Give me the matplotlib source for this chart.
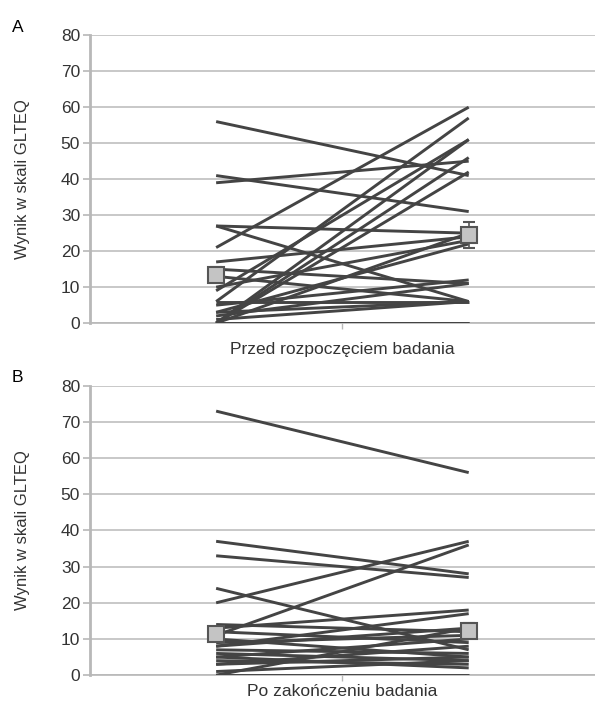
import matplotlib.pyplot as plt

# panel A - before the study (pairs: first measurement -> second measurement)
before_A = [56, 41, 39, 27, 27, 21, 17, 15, 13, 9, 6, 5, 3, 1, 0, 0, 0, 0, 0, 10, 3, 0, 6, 2]
after_A = [41, 31, 45, 25, 6, 60, 24, 11, 6, 51, 57, 12, 22, 6, 51, 46, 42, 25, 0, 23, 6, 0, 6, 11]
mean_A = [13.5, 24.5]
err_A = [2.0, 3.5]

# panel B - after the study
before_B = [73, 37, 33, 24, 20, 11, 13, 8, 14, 12, 10, 8, 6, 5, 7, 3, 4, 0, 0, 1, 5, 9, 3]
after_B = [56, 28, 27, 7, 37, 36, 18, 17, 12, 9, 5, 13, 4, 10, 6, 5, 3, 13, 0, 4, 2, 11, 8]
mean_B = [11.5, 12.3]
err_B = [1.5, 2.0]

panels = [
    ('A', 'Przed rozpoczęciem badania', before_A, after_A, mean_A, err_A, [0.151, 0.541, 0.849, 0.409], 6),
    ('B', 'Po zakończeniu badania', before_B, after_B, mean_B, err_B, [0.151, 0.041, 0.849, 0.411], -1),
]

plt.rcParams['font.family'] = ['Liberation Sans', 'DejaVu Sans']

fig = plt.figure(figsize=(5.95, 7.04), dpi=100)
for letter, xlabel, before, after, mean, err, rect, xpad in panels:
    ax = fig.add_axes(rect)
    for b, a in zip(before, after):
        ax.plot([0, 1], [b, a], color='#444444', lw=2.1, solid_capstyle='butt', zorder=3)
    ax.errorbar([0, 1], mean, yerr=err, fmt='s', ms=11, mfc='#c4c4c4', mec='#555555', mew=1.5,
                ecolor='#555555', elinewidth=1.2, capsize=4, zorder=4)
    ax.set_xlim(-0.5, 1.5)
    ax.set_ylim(0, 80)
    ax.set_yticks(range(0, 81, 10))
    ax.set_xticks([0.5])
    ax.set_xticklabels([])
    ax.yaxis.grid(True, color='#c4c4c4', lw=1.3)
    ax.set_axisbelow(True)
    for s in ['top', 'right']:
        ax.spines[s].set_visible(False)
    ax.spines['left'].set_color('#b8b8b8')
    ax.spines['left'].set_linewidth(2)
    ax.spines['bottom'].set_color('#b8b8b8')
    ax.spines['bottom'].set_linewidth(1.2)
    ax.tick_params(axis='y', colors='#b8b8b8', labelcolor='#333333', labelsize=12.5, length=5, width=1.2, pad=2)
    ax.tick_params(axis='x', colors='#b8b8b8', length=4, width=1)
    ax.set_xlabel(xlabel, fontsize=12.5, color='#333333', labelpad=xpad)
    ax.set_ylabel('Wynik w skali GLTEQ', fontsize=12, color='#333333', labelpad=22)
    fig.text(0.02, rect[1] + rect[3] + 0.005, letter, fontsize=12.5, color='black')

fig.savefig('out.png', dpi=100)
